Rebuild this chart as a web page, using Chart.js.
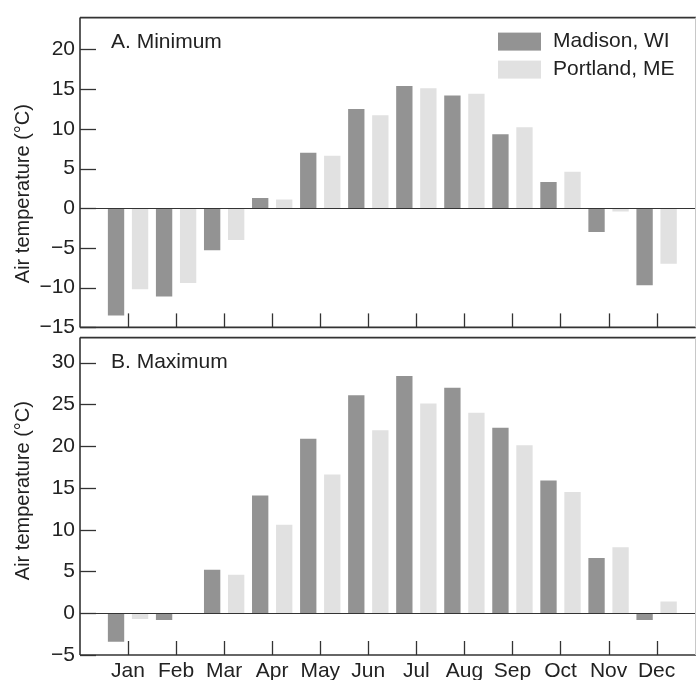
<!DOCTYPE html>
<html>
<head>
<meta charset="utf-8">
<script src="https://cdn.jsdelivr.net/npm/chart.js@4"></script>
<style>
  body { margin: 0; background: #fff; }
  #wrap { position: relative; width: 698px; height: 680px; }
  .panel { position: absolute; left: 0; }
</style>
</head>
<body>
<div id="wrap">
  <canvas id="chart-min" class="panel" width="698" height="345" style="top:0"></canvas>
  <canvas id="chart-max" class="panel" width="698" height="360" style="top:320px"></canvas>
</div>
<script>
const MESES = ['Jan', 'Feb', 'Mar', 'Apr', 'May', 'Jun', 'Jul', 'Aug', 'Sep', 'Oct', 'Nov', 'Dec'];

const madisonMin  = [-13.5, -11.1, -5.3, 1.3, 7.0, 12.5, 15.4, 14.2, 9.3, 3.3, -3.0, -9.7];
const portlandMin = [-10.2, -9.4, -4.0, 1.1, 6.6, 11.7, 15.1, 14.4, 10.2, 4.6, -0.4, -7.0];
const madisonMax  = [-3.4, -0.8, 5.2, 14.1, 20.9, 26.1, 28.4, 27.0, 22.2, 15.9, 6.6, -0.8];
const portlandMax = [-0.7, 0, 4.6, 10.6, 16.6, 21.9, 25.1, 24.0, 20.1, 14.5, 7.9, 1.4];

const minTicks = [-15, -10, -5, 0, 5, 10, 15, 20];
const maxTicks = [-5, 0, 5, 10, 15, 20, 25, 30];

const FONT = '"Liberation Sans", Arial, Helvetica, sans-serif';
const INK  = '#222';

const toPoints = vals => vals.map((v, i) => ({ x: i, y: v }));

function line(ctx, x1, y1, x2, y2) {
    ctx.beginPath();
    ctx.moveTo(x1, y1);
    ctx.lineTo(x2, y2);
    ctx.stroke();
}

// frame, inward ticks, zero line, panel label, y title, legend
const panelPlugin = {
    id: 'panel',
    afterDraw(chart, args, opts) {
        const { ctx, chartArea: a, scales: { x, y } } = chart;
        ctx.save();

        ctx.strokeStyle = '#333';
        ctx.lineWidth = 1;
        const y0 = Math.round(y.getPixelForValue(0)) + 0.5;
        line(ctx, a.left, y0, a.right, y0);

        ctx.lineWidth = 1.3;
        for (const t of x.ticks) {
            const px = Math.round(x.getPixelForValue(t.value)) + 0.5;
            line(ctx, px, a.bottom, px, a.bottom - 14);
        }
        for (const t of y.ticks) {
            const py = Math.round(y.getPixelForValue(t.value)) + 0.5;
            line(ctx, a.left, py, a.left + 16, py);
        }

        ctx.lineWidth = 1.6;
        line(ctx, a.left, a.top, a.right, a.top);
        line(ctx, a.left, a.top, a.left, a.bottom);
        line(ctx, a.left, a.bottom, a.right, a.bottom);
        ctx.strokeStyle = '#c8c8c8';
        ctx.lineWidth = 1;
        line(ctx, a.right - 0.5, a.top, a.right - 0.5, a.bottom);

        ctx.fillStyle = INK;
        ctx.font = `21px ${FONT}`;
        ctx.textAlign = 'left';
        ctx.textBaseline = 'alphabetic';
        ctx.fillText(opts.label, a.left + 31, a.top + 30);

        ctx.save();
        ctx.translate(23, a.top + opts.titleOffset);
        ctx.rotate(-Math.PI / 2);
        ctx.font = `20px ${FONT}`;
        ctx.textAlign = 'center';
        ctx.textBaseline = 'middle';
        ctx.fillText('Air temperature (\u00B0C)', 0, 0);
        ctx.restore();

        if (opts.legend) {
            ctx.font = `21px ${FONT}`;
            ctx.textBaseline = 'middle';
            chart.data.datasets.forEach((ds, i) => {
                const top = a.top + 15 + i * 28;
                ctx.fillStyle = ds.backgroundColor;
                ctx.fillRect(a.right - 198, top, 43, 18);
                ctx.fillStyle = INK;
                ctx.fillText(ds.label, a.right - 143, top + 9);
            });
        }
        ctx.restore();
    }
};

function buildChart(id, madison, portland, yTicks, yMin, yMax, panel, showLabels, padding) {
    return new Chart(document.getElementById(id), {
        type: 'bar',
        data: {
            datasets: [
                { label: 'Madison, WI',  data: toPoints(madison),  backgroundColor: '#939393' },
                { label: 'Portland, ME', data: toPoints(portland), backgroundColor: '#e1e1e1' }
            ]
        },
        options: {
            responsive: false,
            animation: false,
            layout: { padding },
            datasets: { bar: { categoryPercentage: 1.0, barPercentage: 0.68 } },
            plugins: {
                legend: { display: false },
                tooltip: { enabled: false },
                panel
            },
            scales: {
                x: {
                    type: 'linear',
                    offset: false,
                    min: -1,
                    max: 11.82,
                    grid: { display: false, drawTicks: false },
                    border: { display: false },
                    afterBuildTicks: s => { s.ticks = MESES.map((m, i) => ({ value: i })); },
                    afterFit: s => { s.height = showLabels ? 25 : 0; },
                    ticks: {
                        display: showLabels,
                        padding: 4,
                        maxRotation: 0,
                        autoSkip: false,
                        color: INK,
                        font: { family: FONT, size: 21 },
                        callback: v => MESES[v] ?? ''
                    }
                },
                y: {
                    min: yMin,
                    max: yMax,
                    grid: { display: false, drawTicks: false },
                    border: { display: false },
                    afterBuildTicks: s => { s.ticks = yTicks.map(v => ({ value: v })); },
                    afterFit: s => { s.width = 80; },
                    ticks: {
                        padding: 5,
                        color: INK,
                        font: { family: FONT, size: 21 },
                        callback: v => (v < 0 ? '\u2212' + Math.abs(v) : String(v))
                    }
                }
            }
        },
        plugins: [panelPlugin]
    });
}

buildChart('chart-min', madisonMin, portlandMin, minTicks, -15, 24,
    { label: 'A. Minimum', titleOffset: 176, legend: true }, false,
    { top: 10, right: 2, bottom: 11, left: 0 });

buildChart('chart-max', madisonMax, portlandMax, maxTicks, -5, 33,
    { label: 'B. Maximum', titleOffset: 153, legend: false }, true,
    { top: 14, right: 2, bottom: 0, left: 0 });
</script>
</body>
</html>
